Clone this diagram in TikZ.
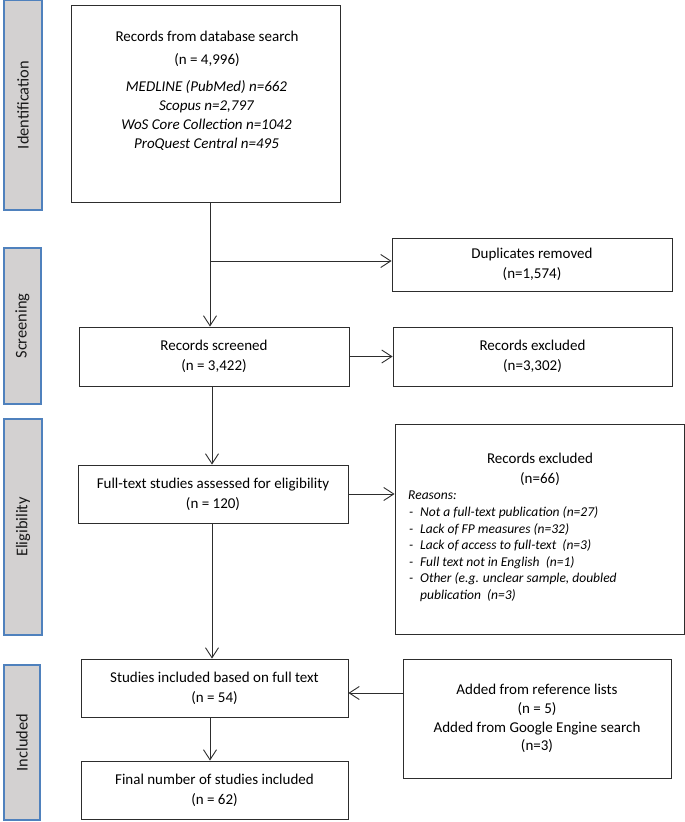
\documentclass[tikz,border=0pt]{standalone}
\usepackage{fontspec}
\setmainfont{Carlito}
\usetikzlibrary{arrows.meta}
\definecolor{sidegray}{RGB}{211,209,209}
\definecolor{sideblue}{RGB}{79,129,189}
\definecolor{linecol}{RGB}{45,45,45}
\tikzset{
  box/.style={draw=linecol, line width=0.9pt, inner sep=0pt, align=center,
    font=\fontsize{15}{20}\selectfont, text=black},
  side/.style={draw=sideblue, fill=sidegray, line width=1.4pt, rotate=90,
    inner sep=0pt, font=\fontsize{16.4}{20}\selectfont, text=black!90},
  arr/.style={draw=linecol, line width=0.9pt, -{Straight Barb[length=10pt,width=13pt]}},
}
\begin{document}
\begin{tikzpicture}[x=1pt,y=-1pt]
\useasboundingbox (0,0) rectangle (685,822);

% phase labels
\node[side, minimum width=210pt, minimum height=38pt] (sid) at (23,105) {Identification};
\node[side, minimum width=156pt, minimum height=37pt] (sscr) at (22.5,326) {Screening};
\node[side, minimum width=216pt, minimum height=38pt] (seli) at (23,527) {Eligibility};
\node[side, minimum width=155pt, minimum height=36pt] (sinc) at (22,742.5) {Included};

% boxes
\node[box, minimum width=269pt, minimum height=197pt] (src) at (205.5,103.5) {};
\node[box, draw=none, font=\fontsize{15}{23}\selectfont] (srct) at (207,48.5)
  {Records from database search\\(n = 4,996)};
\node[box, draw=none, font=\itshape\fontsize{15}{19}\selectfont] (srcl) at (206.5,115.5)
  {MEDLINE (PubMed) n=662\\Scopus n=2,797\\WoS Core Collection n=1042\\ProQuest Central n=495};

\node[box, minimum width=280pt, minimum height=53pt] (dup) at (532,264.5)
  {Duplicates removed\\(n=1,574)};
\node[box, minimum width=270pt, minimum height=59pt] (scr) at (214,356.5)
  {Records screened\\(n = 3,422)};
\node[box, minimum width=279pt, minimum height=59pt] (exc1) at (532.5,356.5)
  {Records excluded\\(n=3,302)};
\node[box, minimum width=270pt, minimum height=58pt] (ft) at (213,494)
  {Full-text studies assessed for eligibility\\(n = 120)};
\node[box, minimum width=289pt, minimum height=210pt] (exc2) at (539.5,529) {};
\node[box, draw=none] (exht) at (540,469) {Records excluded\\(n=66)};
\node[inner sep=0pt, anchor=north west, align=left,
  font=\itshape\fontsize{13.5}{16.6}\selectfont] (exl) at (408,491)
  {Reasons:\\
   \makebox[12pt][l]{\hspace{1pt}-}Not a full-text publication (n=27)\\
   \makebox[12pt][l]{\hspace{1pt}-}Lack of FP measures (n=32)\\
   \makebox[12pt][l]{\hspace{1pt}-}Lack of access to full-text~ (n=3)\\
   \makebox[12pt][l]{\hspace{1pt}-}Full text not in English~ (n=1)\\
   \makebox[12pt][l]{\hspace{1pt}-}Other (e.g. unclear sample, doubled\\
   \hspace*{12pt}publication~ (n=3)};
\node[box, minimum width=267pt, minimum height=58pt] (stu) at (214.5,688)
  {Studies included based on full text\\(n = 54)};
\node[box, minimum width=267pt, minimum height=58pt] (fin) at (214.5,790)
  {Final number of studies included\\(n = 62)};
\node[box, minimum width=268pt, minimum height=119pt, font=\fontsize{15}{18.7}\selectfont] (add) at (537,718.5)
  {Added from reference lists\\(n = 5)\\Added from Google Engine search\\(n=3)};

% connectors
\coordinate (c1) at (210,0);
\coordinate (c2) at (212,0);
\coordinate (br) at (211,261);
\coordinate (ay) at (0,693);
\draw[arr] (src.south -| c1) -- (scr.north -| c1);
\draw[arr] (br) -- (br -| dup.west);
\draw[arr] (scr.east) -- (exc1.west);
\draw[arr] (scr.south -| c2) -- (ft.north -| c2);
\draw[arr] (ft.east) -- (ft.east -| exc2.west);
\draw[arr] (ft.south -| c2) -- (stu.north -| c2);
\draw[arr] (stu.south -| c1) -- (fin.north -| c1);
\draw[arr] (add.west |- ay) -- (stu.east |- ay);
\end{tikzpicture}
\end{document}
